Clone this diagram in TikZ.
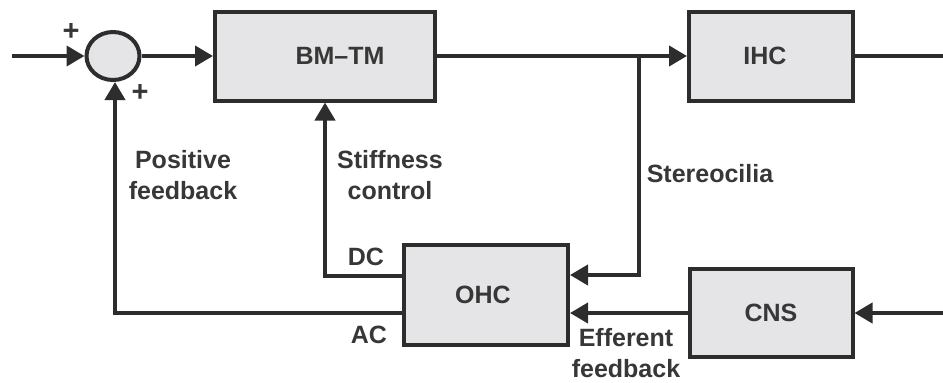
\documentclass[tikz,border=0pt]{standalone}
\usepackage{fontspec}
\setmainfont{Liberation Sans}
\usetikzlibrary{arrows.meta,shapes.geometric}
\definecolor{ln}{RGB}{45,45,45}
\definecolor{bx}{RGB}{229,229,231}
\definecolor{tx}{RGB}{55,55,55}
\begin{document}
\begin{tikzpicture}[x=1pt,y=-1pt,
  blk/.style={draw=ln,fill=bx,line width=4pt,inner sep=0pt,font=\fontsize{25}{31}\selectfont\bfseries,text=tx},
  arr/.style={draw=ln,line width=4pt,-{Triangle[length=18pt,width=20pt]}},
  wire/.style={draw=ln,line width=4pt},
  lbl/.style={font=\fontsize{25}{31}\selectfont\bfseries,text=tx,inner sep=0pt,align=center},
  pls/.style={font=\fontsize{29}{31}\selectfont\bfseries,text=tx,inner sep=0pt}]
\useasboundingbox (0,0) rectangle (943,383);
\node[blk,ellipse,minimum width=53pt,minimum height=48pt] (sum) at (113,56) {};
\node[blk,minimum width=220pt,minimum height=89pt] (bm) at (325,56) {\hspace*{30pt}BM–TM};
\node[blk,minimum width=164pt,minimum height=89pt] (ihc) at (771,56) {IHC\hspace*{12pt}};
\node[blk,minimum width=164pt,minimum height=100pt] (ohc) at (486,295) {OHC\hspace*{6pt}};
\node[blk,minimum width=163pt,minimum height=88pt] (cns) at (771,313) {CNS};
\coordinate (in) at (12,56);
\coordinate (out) at (943,56);
\coordinate (cin) at (943,313);
\coordinate (br) at (639,56);
\draw[arr] (in) -- (sum.west);
\draw[arr] (sum.east) -- (bm.west);
\draw[arr] (bm.east) -- (ihc.west);
\draw[wire] (ihc.east) -- (out);
\draw[arr] (br) |- ([yshift=20pt]ohc.east);
\draw[arr] (cns.west) -- (cns.west -| ohc.east);
\draw[arr] (cin) -- (cns.east);
\draw[arr] ([yshift=19pt]ohc.west) -| (bm.south);
\draw[arr] ([yshift=-18pt]ohc.west) -| ([xshift=2pt]sum.south);
\node[pls] (p1) at (71,32) {+};
\node[pls] (p2) at (140,93) {+};
\node[lbl] (pf) at (183,175) {Positive\\feedback};
\node[lbl] (sc) at (390,175) {Stiffness\\control};
\node[lbl,anchor=base] (st) at (710,182) {Stereocilia};
\node[lbl,anchor=base] (dc) at (366,265) {DC};
\node[lbl,anchor=base] (ac) at (369,343) {AC};
\node[lbl] (ef) at (626,353) {Efferent\\feedback};
\end{tikzpicture}
\end{document}
